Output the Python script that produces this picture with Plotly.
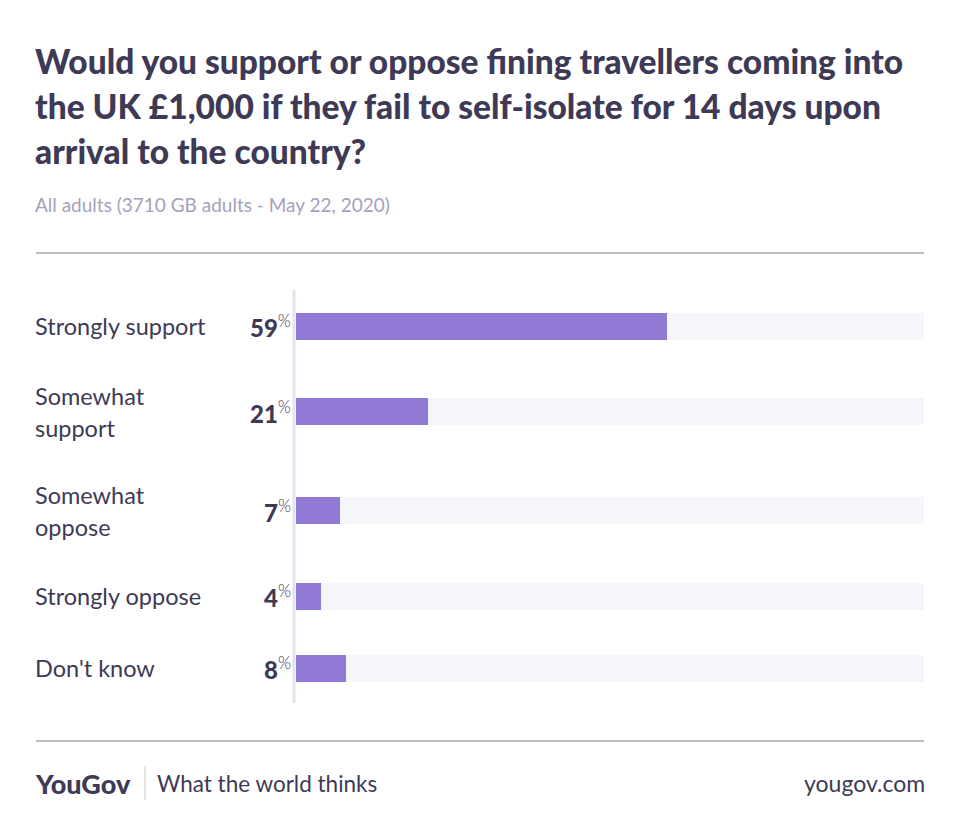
import plotly.graph_objects as go

# ---- data ----
categories = ["Strongly support", "Somewhat\nsupport", "Somewhat\noppose", "Strongly oppose", "Don't know"]
values = [59, 21, 7, 4, 8]
title_lines = [
    "Would you support or oppose fining travellers coming into",
    "the UK £1,000 if they fail to self-isolate for 14 days upon",
    "arrival to the country?",
]
subtitle = "All adults (3710 GB adults - May 22, 2020)"

W, H = 960, 836
DARK = "#3e3a56"
BAR = "#9179d6"
TRACK = "#f6f5fa"
FONT = "Lato"
PAD = 3  # annotation inner padding compensation

# vertical layout of the rows derived from label line counts
line_counts = [len(c.split("\n")) for c in categories]
row_base, row_extra = 72, 27
centers = []
y = 326
for i, n in enumerate(line_counts):
    if i > 0:
        y += row_base + row_extra * ((line_counts[i - 1] - 1) + (n - 1)) / 2
    centers.append(y)

plot_top, plot_bot = 290, 703
x0_px, x1_px = 296, 924
L = (36 - PAD) / W
R = (924 + PAD) / W

fig = go.Figure()
fig.add_trace(go.Bar(
    x=[100] * len(values), y=centers, orientation="h", width=27,
    marker=dict(color=TRACK, line=dict(width=0)), hoverinfo="skip", showlegend=False))
fig.add_trace(go.Bar(
    x=values, y=centers, orientation="h", width=27,
    marker=dict(color=BAR, line=dict(width=0)), showlegend=False))

ann = []
for i, t in enumerate(title_lines):
    ann.append(dict(x=L, y=1 - (61 + 45 * i) / H, xref="paper", yref="paper",
                    xanchor="left", yanchor="middle", showarrow=False, text=t,
                    font=dict(family=FONT, size=33.5, color=DARK, weight=900)))
ann.append(dict(x=L, y=1 - 205 / H, xref="paper", yref="paper", xanchor="left",
                yanchor="middle", showarrow=False, text=subtitle,
                font=dict(family=FONT, size=19, color="#a4a2b8", weight=400)))

for c, v, cy in zip(categories, values, centers):
    lines = c.split("\n")
    n = len(lines)
    for j, ln in enumerate(lines):
        ann.append(dict(x=L, xref="paper", y=cy + (j - (n - 1) / 2) * 32, yref="y",
                        xanchor="left", yanchor="middle", showarrow=False, text=ln,
                        font=dict(family=FONT, size=23.5, color=DARK)))
    ann.append(dict(x=(290 + PAD) / W, xref="paper", y=cy, yref="y", xanchor="right",
                    yanchor="middle", showarrow=False,
                    text=f"{v}<span style='font-size:24px;font-weight:300'><sup>%</sup></span>",
                    font=dict(family=FONT, size=24, color=DARK, weight=900)))

# footer
ann.append(dict(x=L, y=1 - 783 / H, xref="paper", yref="paper", xanchor="left",
                yanchor="middle", showarrow=False, text="YouGov",
                font=dict(family=FONT, size=27, color=DARK, weight=900)))
ann.append(dict(x=(158 - PAD) / W, y=1 - 783 / H, xref="paper", yref="paper", xanchor="left",
                yanchor="middle", showarrow=False, text="What the world thinks",
                font=dict(family=FONT, size=22.5, color=DARK)))
ann.append(dict(x=R, y=1 - 783 / H, xref="paper", yref="paper", xanchor="right",
                yanchor="middle", showarrow=False, text="yougov.com",
                font=dict(family=FONT, size=23, color=DARK)))

shapes = [
    dict(type="line", xref="paper", yref="paper", x0=36 / W, x1=924 / W,
         y0=1 - 253 / H, y1=1 - 253 / H, line=dict(color="#a9a9b0", width=1.5)),
    dict(type="line", xref="paper", yref="paper", x0=36 / W, x1=924 / W,
         y0=1 - 741 / H, y1=1 - 741 / H, line=dict(color="#a9a9b0", width=1.5)),
    dict(type="line", xref="paper", yref="paper", x0=294 / W, x1=294 / W,
         y0=1 - plot_top / H, y1=1 - plot_bot / H, line=dict(color="#e4e2ee", width=3)),
    dict(type="line", xref="paper", yref="paper", x0=145 / W, x1=145 / W,
         y0=1 - 766 / H, y1=1 - 800 / H, line=dict(color="#c8c8cc", width=1)),
]

fig.update_layout(
    width=W, height=H, margin=dict(l=0, r=0, t=0, b=0),
    paper_bgcolor="white", plot_bgcolor="white",
    barmode="overlay", bargap=0,
    xaxis=dict(domain=[x0_px / W, x1_px / W], range=[0, 100], visible=False, fixedrange=True),
    yaxis=dict(domain=[1 - plot_bot / H, 1 - plot_top / H], range=[plot_bot, plot_top],
               visible=False, fixedrange=True),
    annotations=ann, shapes=shapes,
)

fig.write_html("out.html", config={"displayModeBar": False},
               post_script="document.body.style.margin='0';")
